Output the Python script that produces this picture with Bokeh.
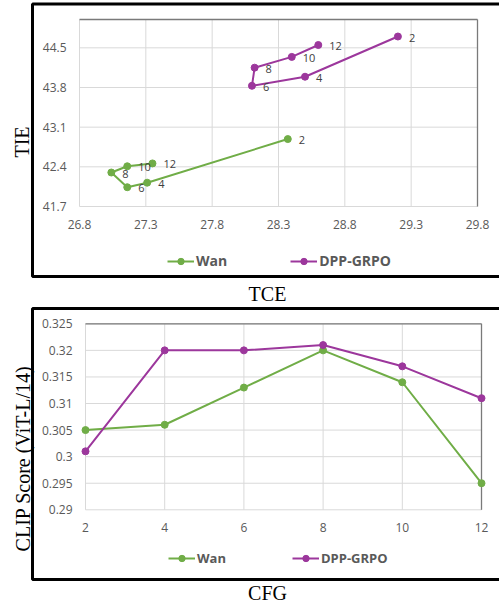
import math
from bokeh.plotting import figure
from bokeh.models import Range1d, Label, BoxAnnotation, Legend, LegendItem
from bokeh.layouts import column
from bokeh.embed import file_html
from bokeh.resources import INLINE
from bokeh.core.properties import value

# ---------------- data ----------------
steps = ["2", "4", "6", "8", "10", "12"]
wan_tce = [28.37, 27.31, 27.16, 27.04, 27.16, 27.35]
wan_tie = [42.89, 42.12, 42.04, 42.30, 42.41, 42.46]
dpp_tce = [29.20, 28.50, 28.10, 28.12, 28.40, 28.60]
dpp_tie = [44.70, 43.99, 43.83, 44.15, 44.34, 44.55]

tce_ticks = [26.8, 27.3, 27.8, 28.3, 28.8, 29.3, 29.8]
tce_labels = ["26.8", "27.3", "27.8", "28.3", "28.8", "29.3", "29.8"]
tie_ticks = [41.7, 42.4, 43.1, 43.8, 44.5]
tie_labels = ["41.7", "42.4", "43.1", "43.8", "44.5"]
tie_max = 45.0

cfg = [2, 4, 6, 8, 10, 12]
wan_clip = [0.305, 0.306, 0.313, 0.320, 0.314, 0.295]
dpp_clip = [0.301, 0.320, 0.320, 0.321, 0.317, 0.311]
cfg_ticks = [2, 4, 6, 8, 10, 12]
cfg_labels = ["2", "4", "6", "8", "10", "12"]
clip_ticks = [0.29, 0.295, 0.3, 0.305, 0.31, 0.315, 0.32, 0.325]
clip_labels = ["0.29", "0.295", "0.3", "0.305", "0.31", "0.315", "0.32", "0.325"]

# ---------------- styles ----------------
GREEN = "#70ad47"
PURPLE = "#9c379c"
TICK_COLOR = "#595959"
GRID = "#d9d9d9"
FRAME = "#7a7a7a"
SANS = "Open Sans"
SERIF = "Liberation Serif"
W = 499


def make_panel(height, area, xlim, ylim):
    """area = (left, right, top, bottom) of the plot area in canvas pixels."""
    l, r, t, b = area
    ppx = (r - l) / (xlim[1] - xlim[0])
    ppy = (b - t) / (ylim[1] - ylim[0])
    p = figure(width=W, height=height, output_backend="svg", toolbar_location=None,
               x_axis_type=None, y_axis_type=None,
               x_range=Range1d(xlim[0] - l / ppx, xlim[1] + (W - r) / ppx),
               y_range=Range1d(ylim[0] - (height - b) / ppy, ylim[1] + t / ppy),
               min_border_left=0, min_border_right=0, min_border_top=0, min_border_bottom=0)
    p.outline_line_color = None
    p.background_fill_color = "white"
    p.border_fill_color = "white"
    p.grid.visible = False
    return p


def draw_axes(p, xlim, ylim, xticks, xlabels, yticks, ylabels, xlab_dy, ylab_dx):
    nx, ny = len(xticks), len(yticks)
    # grid lines
    p.segment(x0=xticks, x1=xticks, y0=[ylim[0]] * nx, y1=[ylim[1]] * nx,
              line_color=GRID, line_width=1)
    p.segment(x0=[xlim[0]] * ny, x1=[xlim[1]] * ny, y0=yticks, y1=yticks,
              line_color=GRID, line_width=1)
    # darker top / right frame edges
    p.segment(x0=[xlim[0], xlim[1]], x1=[xlim[1], xlim[1]],
              y0=[ylim[1], ylim[0]], y1=[ylim[1], ylim[1]],
              line_color=FRAME, line_width=1.3)
    # tick labels
    p.text(x=xticks, y=[ylim[0]] * nx, text=xlabels, y_offset=xlab_dy,
           text_font=value(SANS), text_font_size="12px", text_color=TICK_COLOR,
           text_align="center", text_baseline="middle")
    p.text(x=[xlim[0]] * ny, y=yticks, text=ylabels, x_offset=ylab_dx,
           text_font=value(SANS), text_font_size="12px", text_color=TICK_COLOR,
           text_align="right", text_baseline="middle")


def add_series(p, xs, ys, color):
    l = p.line(xs, ys, line_color=color, line_width=2)
    s = p.scatter(xs, ys, size=7, fill_color=color, line_color=color)
    return [l, s]


def add_legend(p, items, loc, font_size, spacing):
    leg = Legend(items=items, orientation="horizontal", location=loc)
    leg.label_text_font = SANS
    leg.label_text_font_style = "bold"
    leg.label_text_font_size = font_size
    leg.label_text_color = TICK_COLOR
    leg.glyph_width = 27
    leg.glyph_height = 16
    leg.label_height = 16
    leg.label_standoff = 2
    leg.spacing = spacing
    leg.padding = 0
    leg.margin = 0
    leg.border_line_color = None
    leg.background_fill_alpha = 0
    p.add_layout(leg)


def add_box_and_titles(p, height, box, ytitle, ypos, xtitle, xpos):
    bl, bt, bb = box
    p.add_layout(BoxAnnotation(left=bl, right=W + 20, top=height - bt, bottom=height - bb,
                               left_units="screen", right_units="screen",
                               top_units="screen", bottom_units="screen",
                               fill_alpha=0, fill_color=None,
                               line_color="black", line_alpha=1.0, line_width=3))
    p.add_layout(Label(x=ypos[0], y=height - ypos[1], x_units="screen", y_units="screen",
                       text=ytitle, angle=math.pi / 2, text_align="center",
                       text_baseline="middle", text_font=SERIF, text_font_size="20px",
                       text_color="black"))
    p.add_layout(Label(x=xpos[0], y=height - xpos[1], x_units="screen", y_units="screen",
                       text=xtitle, text_align="center", text_baseline="middle",
                       text_font=SERIF, text_font_size="20px", text_color="black"))


# ---------------- top panel: TIE vs TCE ----------------
H1 = 304
xlim1 = (tce_ticks[0], tce_ticks[-1])
ylim1 = (tie_ticks[0], tie_max)
p1 = make_panel(H1, (79, 477, 19, 206), xlim1, ylim1)
draw_axes(p1, xlim1, ylim1, tce_ticks, tce_labels, tie_ticks, tie_labels, 18, -13)
w1 = add_series(p1, wan_tce, wan_tie, GREEN)
d1 = add_series(p1, dpp_tce, dpp_tie, PURPLE)
for xs, ys in ((wan_tce, wan_tie), (dpp_tce, dpp_tie)):
    p1.text(x=xs, y=ys, text=steps, x_offset=11, y_offset=1,
            text_font=value(SANS), text_font_size="11px", text_color="#404040",
            text_align="left", text_baseline="middle")
add_legend(p1, [LegendItem(label="Wan", renderers=w1),
                LegendItem(label="DPP-GRPO", renderers=d1)],
           (167, H1 - 270), "14px", 63)
add_box_and_titles(p1, H1, (32, 3.5, 276), "TIE", (21, 141.5), "TCE", (267, 293))

# ---------------- bottom panel: CLIP vs CFG ----------------
H2 = 298
xlim2 = (cfg_ticks[0], cfg_ticks[-1])
ylim2 = (clip_ticks[0], clip_ticks[-1])
p2 = make_panel(H2, (85, 481, 19.3, 205.3), xlim2, ylim2)
draw_axes(p2, xlim2, ylim2, cfg_ticks, cfg_labels, clip_ticks, clip_labels, 17.5, -13)
w2 = add_series(p2, cfg, wan_clip, GREEN)
d2 = add_series(p2, cfg, dpp_clip, PURPLE)
add_legend(p2, [LegendItem(label="Wan", renderers=w2),
                LegendItem(label="DPP-GRPO", renderers=d2)],
           (168, H2 - 263), "13px", 66)
add_box_and_titles(p2, H2, (32, 4, 275), "CLIP Score (ViT-L/14)", (22.5, 154), "CFG", (267, 288))

layout = column(p1, p2)
open("out.html", "w").write(file_html(layout, INLINE))
